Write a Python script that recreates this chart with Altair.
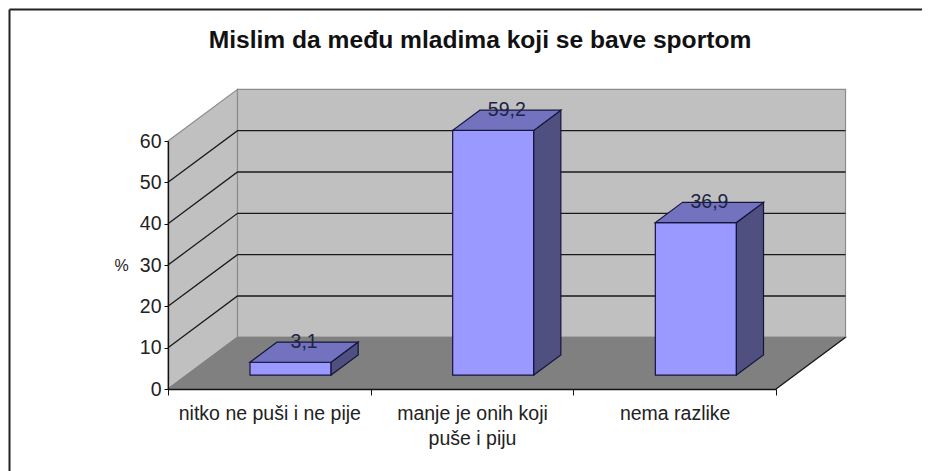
import json
import altair as alt
import pandas as pd

TITLE = "Mislim da među mladima koji se bave sportom"
categories = ["nitko ne puši i ne pije", "manje je onih koji\npuše i piju", "nema razlike"]
values = [3.1, 59.2, 36.9]
value_labels = ["3,1", "59,2", "36,9"]
y_ticks = [0, 10, 20, 30, 40, 50, 60]

FONT = "Liberation Sans"
WALL, FLOOR, FRONT, TOP, SIDE = "#C0C0C0", "#808080", "#9999FF", "#7272BF", "#4F4F80"
EDGE, WALL_EDGE = "#14143C", "#8C8C8C"
# oblique projection: one unit of depth moves this far in data units
DX, DY = 0.343, 12.5
BAR_W, D0, D1, BAR_SHIFT = 0.4, 0.27, 0.66, 0.012
N = len(categories)
YMAX = 60


def px(c, d):
    return c + d * DX


def py(v, d):
    return v + d * DY


vert, horiz, grid = [], [], []


def vface(i, x0, x1, t0, b0, t1, b1, fill, stroke):
    vert.append(dict(id=i, x=x0, y=t0, y2=b0, fill=fill, stroke=stroke))
    vert.append(dict(id=i, x=x1, y=t1, y2=b1, fill=fill, stroke=stroke))


def hface(i, y0, a0, b0, y1, a1, b1, fill, stroke):
    horiz.append(dict(id=i, y=y0, x=a0, x2=b0, fill=fill, stroke=stroke))
    horiz.append(dict(id=i, y=y1, x=a1, x2=b1, fill=fill, stroke=stroke))


# walls and floor
vface("wall_side", px(0, 0), px(0, 1), py(YMAX, 0), py(0, 0), py(YMAX, 1), py(0, 1), WALL, WALL_EDGE)
vface("wall_back", px(0, 1), px(N, 1), py(YMAX, 1), py(0, 1), py(YMAX, 1), py(0, 1), WALL, WALL_EDGE)
walls = pd.DataFrame(vert)
vert = []
hface("floor", py(0, 0), px(0, 0), px(N, 0), py(0, 1), px(0, 1), px(N, 1), FLOOR, FLOOR)
floor = pd.DataFrame(horiz)
horiz = []

# gridlines
for t in y_ticks[1:-1]:
    grid += [dict(id=t, x=px(0, 0), y=py(t, 0)), dict(id=t, x=px(0, 1), y=py(t, 1)), dict(id=t, x=px(N, 1), y=py(t, 1))]
grid = pd.DataFrame(grid)
edge = pd.DataFrame([dict(id=0, x=px(N, 0), y=py(0, 0)), dict(id=0, x=px(N, 1), y=py(0, 1))])

# bars
labels = []
for i, v in enumerate(values):
    mid = i + 0.5 + BAR_SHIFT
    c0, c1 = mid - BAR_W / 2, mid + BAR_W / 2
    vface(f"front{i}", px(c0, D0), px(c1, D0), py(v, D0), py(0, D0), py(v, D0), py(0, D0), FRONT, EDGE)
    vface(f"side{i}", px(c1, D0), px(c1, D1), py(v, D0), py(0, D0), py(v, D1), py(0, D1), SIDE, EDGE)
    hface(f"top{i}", py(v, D0), px(c0, D0), px(c1, D0), py(v, D1), px(c0, D1), px(c1, D1), TOP, EDGE)
    labels.append(dict(x=px(mid, (D0 + D1) / 2), y=py(v, D1), t=value_labels[i]))
bars_v, bars_h, labels = pd.DataFrame(vert), pd.DataFrame(horiz), pd.DataFrame(labels)

X_SCALE = alt.Scale(domain=[0, N], nice=False, zero=False)
Y_SCALE = alt.Scale(domain=[0, YMAX], nice=False, zero=False)
X = alt.X("x:Q", scale=X_SCALE, title=None)
Y = alt.Y("y:Q", scale=Y_SCALE, title="%")

cat_expr = "".join(
    f"datum.value=={i + 0.5}?{json.dumps(c.split(chr(10)), ensure_ascii=False)}:" for i, c in enumerate(categories)
) + "''"


def vlayer(df):
    return alt.Chart(df).mark_area(orient="vertical", strokeWidth=1.2).encode(
        x=X, y=Y, y2="y2:Q", detail="id:N",
        fill=alt.Fill("fill:N", scale=None), stroke=alt.Stroke("stroke:N", scale=None))


def hlayer(df):
    return alt.Chart(df).mark_area(orient="horizontal", strokeWidth=1.2).encode(
        x=X, x2="x2:Q", y=Y, detail="id:N",
        fill=alt.Fill("fill:N", scale=None), stroke=alt.Stroke("stroke:N", scale=None))


axes = alt.Chart(pd.DataFrame(dict(x=[0, N], y=[0, YMAX]))).mark_point(opacity=0).encode(
    x=alt.X("x:Q", scale=X_SCALE, title=None, axis=alt.Axis(
        values=[k / 2 for k in range(2 * N + 1)], labelExpr=cat_expr, grid=False, zindex=1,
        tickSize=6, tickColor="#111111", domainColor="#111111", domainWidth=1.3,
        tickOpacity={"condition": {"test": "datum.value % 1 == 0", "value": 1}, "value": 0},
        labelFont=FONT, labelFontSize=19.5, labelColor="#222222", labelPadding=9, labelLineHeight=25,
        labelLimit=400, labelAngle=0, labelOverlap=False, labelFlush=False, labelBound=False)),
    y=alt.Y("y:Q", scale=Y_SCALE, title="%", axis=alt.Axis(
        values=y_ticks, grid=False, zindex=1, tickSize=4, tickColor="#111111", domainColor="#111111", domainWidth=1.3,
        labelFont=FONT, labelFontSize=19.5, labelColor="#222222", labelPadding=3, labelOverlap=False,
        labelFlush=False, labelBound=False,
        titleFont=FONT, titleFontSize=16, titleFontWeight="normal", titleColor="#222222",
        titleAngle=0, titleX=-47, titleY=132, titleAlign="center")),
)

frame = pd.DataFrame(dict(a=[0]))
frame_top = alt.Chart(frame).mark_rule(color="#222222", strokeWidth=2).encode(
    x=alt.value(-158.5), x2=alt.value(762), y=alt.value(-131.5))
frame_left = alt.Chart(frame).mark_rule(color="#222222", strokeWidth=2).encode(
    x=alt.value(-158.5), y=alt.value(-131.5), y2=alt.value(330))

chart = alt.layer(
    axes,
    vlayer(walls),
    hlayer(floor),
    alt.Chart(grid).mark_line(color="#1a1a1a", strokeWidth=1.3).encode(x=X, y=Y, detail="id:N", order=alt.Order("x:Q")),
    alt.Chart(edge).mark_line(color="#1a1a1a", strokeWidth=1.2).encode(x=X, y=Y, detail="id:N"),
    vlayer(bars_v),
    hlayer(bars_h),
    alt.Chart(labels).mark_text(font=FONT, fontSize=19.5, color="#222244", baseline="middle").encode(x=X, y=Y, text="t:N"),
    frame_top,
    frame_left,
).properties(
    width=608, height=248,
    padding={"left": 160, "top": 133, "right": 146, "bottom": 82},
    autosize=alt.AutoSizeParams(type="none"),
    background="white",
    title=alt.TitleParams(TITLE, font=FONT, fontSize=24.6, fontWeight="bold", color="#111111",
                          anchor="middle", frame="group", dx=8, offset=0, dy=45),
).configure_view(stroke=None)

chart.save("out.html", embed_options={"renderer": "svg", "actions": False})
